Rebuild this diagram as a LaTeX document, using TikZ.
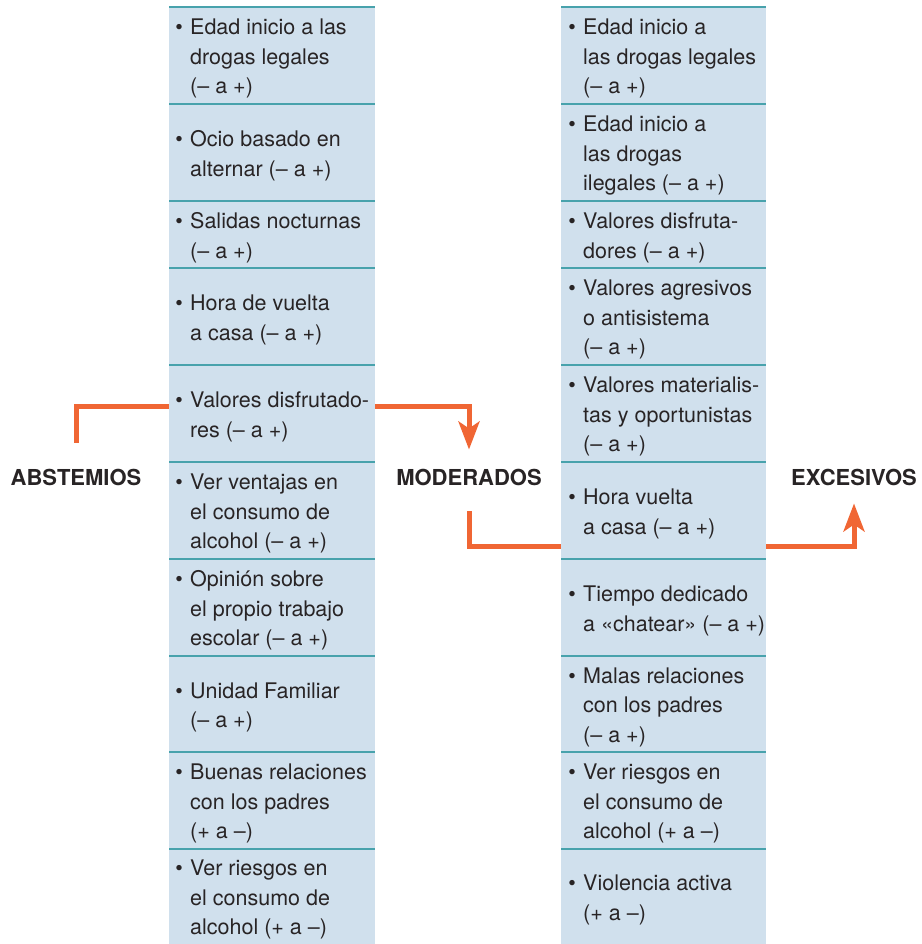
\documentclass[tikz,border=0pt]{standalone}
\usepackage{fontspec}
\setmainfont{TeX Gyre Heros}
\usetikzlibrary{arrows.meta,calc}
\definecolor{cellblue}{RGB}{208,224,237}
\definecolor{septeal}{RGB}{72,162,172}
\definecolor{arroworange}{RGB}{240,102,52}
\definecolor{textgray}{RGB}{40,36,37}
\newcommand{\mybul}{\llap{•\hspace{7.3pt}}}
\tikzset{
  cellbox/.style={rectangle, fill=cellblue, draw=none, inner sep=0pt, minimum width=206pt, anchor=north west},
  celltxt/.style={anchor=west, align=left, inner sep=0pt, text=textgray, font=\fontsize{21.5}{29.5}\selectfont, yshift=-3pt},
  sepline/.style={draw=septeal, line width=1.3pt},
  lbl/.style={font=\fontsize{22}{26}\selectfont\bfseries, text=textgray, inner sep=0pt},
  conn/.style={draw=arroworange, line width=5pt, line join=miter},
  tipped/.style={-{Stealth[length=28pt,width=21pt,inset=7pt]}}
}
\begin{document}
\begin{tikzpicture}[x=1pt,y=-1pt]
\useasboundingbox (0,0) rectangle (921,944);
% cells
\foreach \n/\t/\h in {1/7/97, 2/104/97, 3/201/67, 4/268/97, 5/365/97, 6/462/97, 7/559/97, 8/656/96, 9/752/97, 10/849/95} {
  \node[cellbox, minimum height=\h pt] (L\n) at (169,\t) {};
  \node[cellbox, minimum width=205pt, minimum height=\h pt] (R\n) at (561,\t) {};
}
\foreach \n in {1,...,10} {
  \draw[sepline] (L\n.north west) -- (L\n.north east);
  \draw[sepline] (R\n.north west) -- (R\n.north east);
}
% left texts
\node[celltxt] (tL1) at ([xshift=21pt]L1.west) {\mybul Edad inicio a las\\drogas legales\\(– a +)};
\node[celltxt] (tL2) at ([xshift=21pt]L2.west) {\mybul Ocio basado en\\alternar (– a +)};
\node[celltxt] (tL3) at ([xshift=21pt]L3.west) {\mybul Salidas nocturnas\\(– a +)};
\node[celltxt] (tL4) at ([xshift=21pt]L4.west) {\mybul Hora de vuelta\\a casa (– a +)};
\node[celltxt] (tL5) at ([xshift=21pt]L5.west) {\mybul Valores disfrutado-\\res (– a +)};
\node[celltxt] (tL6) at ([xshift=21pt]L6.west) {\mybul Ver ventajas en\\el consumo de\\alcohol (– a +)};
\node[celltxt] (tL7) at ([xshift=21pt]L7.west) {\mybul Opinión sobre\\el propio trabajo\\escolar (– a +)};
\node[celltxt] (tL8) at ([xshift=21pt]L8.west) {\mybul Unidad Familiar\\(– a +)};
\node[celltxt] (tL9) at ([xshift=21pt]L9.west) {\mybul Buenas relaciones\\con los padres\\(+ a –)};
\node[celltxt] (tL10) at ([xshift=21pt]L10.west) {\mybul Ver riesgos en\\el consumo de\\alcohol (+ a –)};
% right texts
\node[celltxt] (tR1) at ([xshift=22pt]R1.west) {\mybul Edad inicio a\\las drogas legales\\(– a +)};
\node[celltxt] (tR2) at ([xshift=22pt]R2.west) {\mybul Edad inicio a\\las drogas\\ilegales (– a +)};
\node[celltxt] (tR3) at ([xshift=22pt]R3.west) {\mybul Valores disfruta-\\dores (– a +)};
\node[celltxt] (tR4) at ([xshift=22pt]R4.west) {\mybul Valores agresivos\\o antisistema\\(– a +)};
\node[celltxt] (tR5) at ([xshift=22pt]R5.west) {\mybul Valores materialis-\\tas y oportunistas\\(– a +)};
\node[celltxt] (tR6) at ([xshift=22pt]R6.west) {\mybul Hora vuelta\\a casa (– a +)};
\node[celltxt] (tR7) at ([xshift=22pt]R7.west) {\mybul Tiempo dedicado\\a «chatear» (– a +)};
\node[celltxt] (tR8) at ([xshift=22pt]R8.west) {\mybul Malas relaciones\\con los padres\\(– a +)};
\node[celltxt] (tR9) at ([xshift=22pt]R9.west) {\mybul Ver riesgos en\\el consumo de\\alcohol (+ a –)};
\node[celltxt] (tR10) at ([xshift=22pt]R10.west) {\mybul Violencia activa\\(+ a –)};
% labels
\node[lbl] (abs) at (76,477) {ABSTEMIOS};
\node[lbl] (mod) at (469,477) {MODERADOS};
\node[lbl] (exc) at (854,477) {EXCESIVOS};
% connectors
\coordinate (h1) at (0,406);
\coordinate (h2) at (0,546);
\coordinate (a0) at ([yshift=26pt]abs.north);
\coordinate (m0) at ([yshift=-26pt]mod.south);
\draw[conn] (a0) |- (L5.west |- h1);
\draw[conn, tipped] (L5.east |- h1) -| ([yshift=19pt]mod.north);
\draw[conn] (m0) |- (R6.west |- h2);
\draw[conn, tipped] (R6.east |- h2) -| ([yshift=-18pt]exc.south);
\end{tikzpicture}
\end{document}
